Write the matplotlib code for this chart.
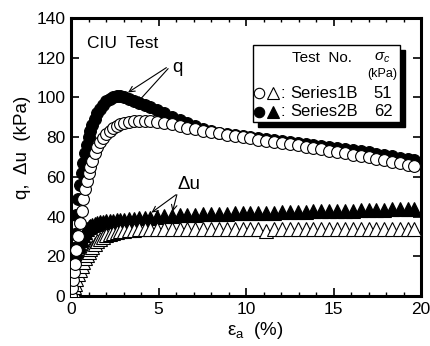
import matplotlib
matplotlib.use("Agg")
import matplotlib.pyplot as plt
from matplotlib.patches import Rectangle

FONT = 'Liberation Sans'
plt.rcParams['font.family'] = [FONT, 'DejaVu Sans']
plt.rcParams['mathtext.fontset'] = 'custom'
plt.rcParams['mathtext.rm'] = FONT
plt.rcParams['mathtext.it'] = FONT + ':italic'

# ---- data ----
strain = [0, 0.05, 0.1, 0.15, 0.2, 0.3, 0.4, 0.5, 0.6, 0.7, 0.8, 0.9, 1.0, 1.1, 1.2,
          1.35, 1.5, 1.65, 1.8, 2.0, 2.2, 2.4, 2.6, 2.8, 3.0, 3.3, 3.6, 3.9, 4.2, 4.5,
          4.9, 5.3, 5.75, 6.2, 6.65, 7.1, 7.55, 8.0, 8.45, 8.9, 9.35, 9.8, 10.25, 10.7,
          11.15, 11.6, 12.05, 12.5, 12.95, 13.4, 13.85, 14.3, 14.75, 15.2, 15.65, 16.1,
          16.55, 17.0, 17.45, 17.9, 18.35, 18.8, 19.25, 19.6]

q_series2 = [0, 8, 16, 24, 31, 41, 49, 56, 62, 67, 72, 76, 80, 83, 86,
             89, 92, 94, 96, 98, 99, 100, 100.5, 100.5, 100, 99, 98, 97, 96, 95,
             93.5, 92, 90, 88.5, 87, 85.5, 84, 83, 82, 81.5, 81, 80.5, 80, 79.5,
             79, 78.5, 78, 77.5, 77, 76.5, 76, 75.5, 75, 74.5, 74, 73.5,
             73, 72.5, 71.5, 71, 70.5, 69.5, 69, 68.5]

q_series1 = [0, 4, 8, 12, 16, 23, 30, 37, 43, 49, 54, 58, 62, 65, 68,
             72, 75, 77.5, 79.5, 81.5, 83, 84.5, 85.5, 86.5, 87, 87.5, 88, 88, 88, 88,
             87.5, 87, 86.5, 85.5, 84.5, 84, 83, 82.5, 82, 81, 80.5, 80, 79.5, 78.5,
             78, 77.5, 77, 76.5, 76, 75, 74.5, 74, 73, 72.5, 72, 71,
             70.5, 70, 69, 68.5, 67.5, 67, 66, 65.5]

du_series2 = [0, 3, 6, 9, 12, 17, 21, 25, 28, 30.5, 32, 33.5, 34.5, 35.5, 36,
              36.5, 37, 37.5, 37.5, 38, 38, 38, 38.5, 38.5, 38.5, 39, 39, 39.5, 39.5, 39.5,
              40, 40.5, 40.5, 41, 41, 41, 41.5, 41.5, 41.5, 41.5, 42, 42, 42, 42,
              42, 42, 42.5, 42.5, 42.5, 42.5, 43, 43, 43, 43, 43, 43,
              43.5, 43.5, 43.5, 43.5, 44, 44, 44, 44]

du_series1 = [0, 1.5, 3, 4.5, 6, 8.5, 11, 13, 15, 17, 19, 20.5, 22, 23.5, 24.5,
              26, 27.5, 28.5, 29.5, 30.5, 31, 31.5, 32, 32.5, 32.5, 33, 33, 33.5, 33.5, 33.5,
              33.5, 33.5, 33.5, 33.5, 33.5, 33.5, 33.5, 33.5, 33.5, 33.5, 33.5, 33.5, 33.5, 33.5,
              32.5, 33.5, 33.5, 33.5, 33.5, 33.5, 33.5, 33.5, 33.5, 33.5, 33.5, 33.5,
              33.5, 33.5, 33.5, 33.5, 33.5, 33.5, 33.5, 33.5]

x_ticks = [0, 5, 10, 15, 20]
y_ticks = [0, 20, 40, 60, 80, 100, 120, 140]
series_names = ['Series1B', 'Series2B']
sigma_c = ['51', '62']

# ---- figure ----
fig = plt.figure(figsize=(4.31, 3.46), dpi=100)
ax = fig.add_axes([71/431, 1-296/346, 350/431, 278/346])

ms_c = 8.5
ms_t = 9.8
ax.plot(strain, du_series2, ls='none', marker='^', ms=ms_t, mfc='black', mec='black', mew=0.8, zorder=3)
ax.plot(strain, du_series1, ls='none', marker='^', ms=ms_t, mfc='white', mec='black', mew=0.8, zorder=4)
ax.plot(strain, q_series2, ls='none', marker='o', ms=ms_c, mfc='black', mec='black', mew=0.8, zorder=5)
ax.plot(strain, q_series1, ls='none', marker='o', ms=ms_c, mfc='white', mec='black', mew=0.8, zorder=6)

ax.set_xlim(0, 20)
ax.set_ylim(0, 140)
ax.set_xticks(x_ticks)
ax.set_yticks(y_ticks)
ax.set_xticks([i for i in range(0, 21)], minor=True)
ax.tick_params(which='both', direction='in', top=True, right=True, labelsize=12.5)
ax.tick_params(which='major', length=6, width=1.2, pad=4)
ax.tick_params(which='minor', length=3, width=1.0)
for s in ax.spines.values():
    s.set_linewidth(2.2)

ax.set_ylabel('q,  Δu  (kPa)', fontsize=13.5)
ax.yaxis.set_label_coords(-0.115, 0.536)
ax.set_xlabel(r'ε$_\mathrm{a}$  (%)', fontsize=13.5)
ax.xaxis.set_label_coords(0.526, -0.085)

ax.text(0.046, 0.91, 'CIU  Test', transform=ax.transAxes, fontsize=12.5, va='center', ha='left')

# annotations
ax.text(5.8, 115, 'q', fontsize=13.5, ha='left', va='center')
ax.annotate('', xy=(3.26, 102.5), xytext=(5.45, 115),
            arrowprops=dict(arrowstyle='->', lw=0.8, color='black', shrinkA=0, shrinkB=0), zorder=10)
ax.annotate('', xy=(3.75, 97), xytext=(5.55, 114.5),
            arrowprops=dict(arrowstyle='->', lw=0.8, color='black', shrinkA=0, shrinkB=0), zorder=10)
ax.text(6.1, 56, 'Δu', fontsize=13.5, ha='left', va='center')
ax.annotate('', xy=(4.6, 42), xytext=(6.0, 51),
            arrowprops=dict(arrowstyle='->', lw=0.8, color='black', shrinkA=0, shrinkB=0), zorder=10)
ax.annotate('', xy=(5.8, 42.5), xytext=(6.05, 51),
            arrowprops=dict(arrowstyle='->', lw=0.8, color='black', shrinkA=0, shrinkB=0), zorder=10)

# legend box with shadow
bx0, bx1 = (253-71)/350, (400-71)/350
by0, by1 = (296-122)/278, (296-45)/278
dx, dy = 5/350, 5/278
ax.add_patch(Rectangle((bx0+dx, by0-dy), bx1-bx0, by1-by0, transform=ax.transAxes,
                       facecolor='black', edgecolor='black', zorder=20))
ax.add_patch(Rectangle((bx0, by0), bx1-bx0, by1-by0, transform=ax.transAxes,
                       facecolor='white', edgecolor='black', lw=1.0, zorder=21))

def px(xp):
    return (xp-71)/350

def py(yp):
    return (296-yp)/278

ax.text(px(322), py(58), 'Test  No.', transform=ax.transAxes, fontsize=11, ha='center', va='center', zorder=22)
ax.text(px(382), py(58), r'$\sigma_c$', transform=ax.transAxes, fontsize=11, ha='center', va='center', zorder=22)
ax.text(px(382), py(74), '(kPa)', transform=ax.transAxes, fontsize=9, ha='center', va='center', zorder=22)

rows_y = [93, 112]
for i, (name, sc) in enumerate(zip(series_names, sigma_c)):
    yy = py(rows_y[i])
    fc = 'white' if i == 0 else 'black'
    ax.plot([px(259)], [yy], marker='o', ms=7.5, mfc=fc, mec='black', mew=0.8,
            transform=ax.transAxes, zorder=22, clip_on=False)
    ax.plot([px(273)], [yy], marker='^', ms=8, mfc=fc, mec='black', mew=0.8,
            transform=ax.transAxes, zorder=22, clip_on=False)
    ax.text(px(281), yy, ':', transform=ax.transAxes, fontsize=12, ha='left', va='center', zorder=22)
    ax.text(px(290), yy, name, transform=ax.transAxes, fontsize=12, ha='left', va='center', zorder=22)
    ax.text(px(383), yy, sc, transform=ax.transAxes, fontsize=12, ha='center', va='center', zorder=22)

fig.savefig('out.png', dpi=100)
